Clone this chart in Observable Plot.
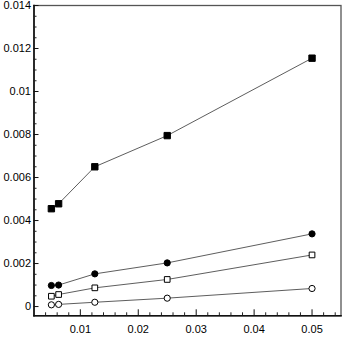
<!DOCTYPE html>
<html>
<head>
<meta charset="utf-8">
<script src="https://cdn.jsdelivr.net/npm/d3@7"></script>
<script src="https://cdn.jsdelivr.net/npm/@observablehq/plot@0.6"></script>
<style>
  html, body { margin: 0; padding: 0; background: #fff; }
  #chart svg { display: block; }
</style>
</head>
<body>
<div id="chart"></div>
<script>
const xValues = [0.005, 0.00625, 0.0125, 0.025, 0.05];
const filledSquares = [0.00455, 0.00478, 0.0065, 0.00795, 0.01155];
const filledCircles = [0.00098, 0.00100, 0.00152, 0.00203, 0.00338];
const openSquares   = [0.00048, 0.00056, 0.00087, 0.00126, 0.00240];
const openCircles   = [0.00008, 0.00010, 0.00020, 0.00039, 0.00084];

const xTicks = [0.01, 0.02, 0.03, 0.04, 0.05];
const xTickLabels = ["0.01", "0.02", "0.03", "0.04", "0.05"];
const xMinorTicks = [0.004, 0.006, 0.008, 0.012, 0.014, 0.016, 0.018, 0.022, 0.024, 0.026, 0.028,
  0.032, 0.034, 0.036, 0.038, 0.042, 0.044, 0.046, 0.048, 0.052, 0.054];
const yTicks = [0, 0.002, 0.004, 0.006, 0.008, 0.01, 0.012, 0.014];
const yTickLabels = ["0", "0.002", "0.004", "0.006", "0.008", "0.01", "0.012", "0.014"];
const yMinorTicks = [0.0005, 0.001, 0.0015, 0.0025, 0.003, 0.0035, 0.0045, 0.005, 0.0055,
  0.0065, 0.007, 0.0075, 0.0085, 0.009, 0.0095, 0.0105, 0.011, 0.0115, 0.0125, 0.013, 0.0135];
const xDomain = [0.002, 0.055];
const yDomain = [-0.00043, 0.014];

const seriesDefs = [
  {name: "filledSquares", values: filledSquares, symbol: "square", fill: "black", r: 3.6},
  {name: "filledCircles", values: filledCircles, symbol: "circle", fill: "black", r: 3.1},
  {name: "openSquares", values: openSquares, symbol: "square", fill: "white", r: 3.2},
  {name: "openCircles", values: openCircles, symbol: "circle", fill: "white", r: 3.1}
];
const table = seriesDefs.flatMap(s => xValues.map((x, i) => ({series: s.name, x, y: s.values[i]})));

const marks = [
  Plot.frame({stroke: "#555", strokeWidth: 1.3}),
  Plot.frame({anchor: "left", stroke: "#111", strokeWidth: 1.6}),
  Plot.frame({anchor: "bottom", stroke: "#111", strokeWidth: 1.6}),
  // tick labels
  Plot.axisX(xTicks, {tickSize: 0, tickPadding: 9, tickFormat: d => xTickLabels[xTicks.indexOf(d)], fill: "black", label: null}),
  Plot.axisY(yTicks, {tickSize: 0, tickPadding: 3, tickFormat: d => yTickLabels[yTicks.indexOf(d)], fill: "black", label: null}),
  // inward major ticks
  Plot.axisX(xTicks, {tickSize: 6, dy: -6, fill: "none", stroke: "#111", label: null}),
  Plot.axisY(yTicks, {tickSize: 5, dx: 5, fill: "none", stroke: "#111", label: null}),
  // inward minor ticks
  Plot.axisX(xMinorTicks, {tickSize: 3, dy: -3, fill: "none", stroke: "#222", label: null}),
  Plot.axisY(yMinorTicks, {tickSize: 3, dx: 3, fill: "none", stroke: "#222", label: null}),
  Plot.lineY(table, {x: "x", y: "y", z: "series", stroke: "#333", strokeWidth: 0.8})
];
for (const s of seriesDefs) {
  marks.push(Plot.dot(table.filter(d => d.series === s.name), {
    x: "x", y: "y", symbol: () => s.symbol, r: s.r, fill: s.fill, stroke: "black", strokeWidth: 1
  }));
}

const chart = Plot.plot({
  width: 346,
  height: 341,
  marginLeft: 33.5,
  marginRight: 5.5,
  marginTop: 5,
  marginBottom: 25.7,
  style: {fontFamily: "'Liberation Sans', Arial, sans-serif", fontSize: "11px", color: "black", background: "white"},
  symbol: {type: "identity"},
  x: {domain: xDomain},
  y: {domain: yDomain},
  marks
});
document.getElementById("chart").appendChild(chart);
</script>
</body>
</html>
